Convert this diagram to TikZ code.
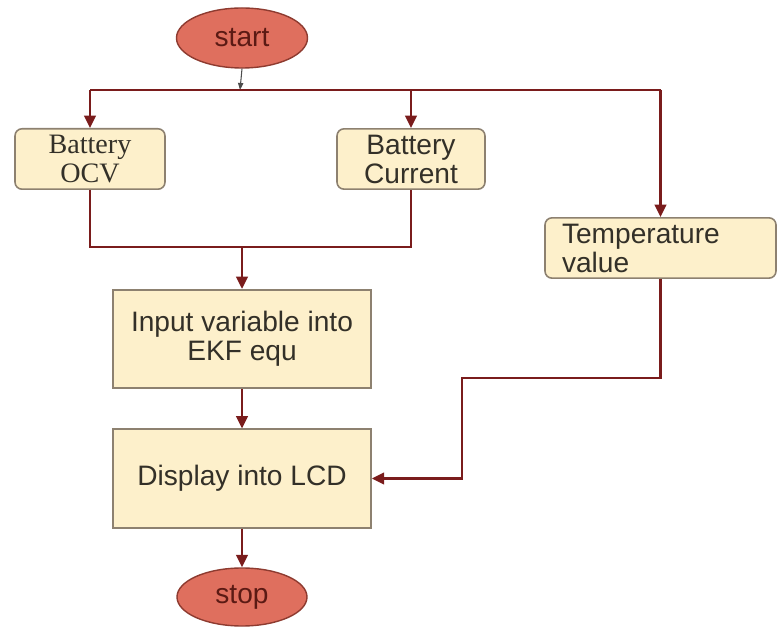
\documentclass[tikz,border=0pt]{standalone}
\usepackage{fontspec}
\setmainfont{Liberation Serif}
\setsansfont{Liberation Sans}
\usetikzlibrary{arrows.meta,positioning,shapes.geometric}
\definecolor{flowred}{HTML}{7A1C1C}
\definecolor{termfill}{HTML}{DF6F5E}
\definecolor{termline}{HTML}{8E3B30}
\definecolor{termtext}{HTML}{5B1A14}
\definecolor{boxfill}{HTML}{FDF0CB}
\definecolor{boxline}{HTML}{8D8170}
\definecolor{boxtext}{HTML}{333028}

\begin{document}
\begin{tikzpicture}[font=\sffamily\fontsize{16}{16.5}\selectfont,>={Triangle[length=7pt,width=6.5pt]},term/.style={ellipse,draw=termline,fill=termfill,line width=.8pt,minimum width=2.62cm,minimum height=1.2cm,inner sep=0pt,text=termtext},card/.style={draw=boxline,fill=boxfill,rounded corners=4pt,line width=.9pt,minimum height=1.16cm,align=center,text=boxtext},proc/.style={draw=boxline,fill=boxfill,line width=.9pt,minimum width=5.16cm,minimum height=1.97cm,align=center,text=boxtext},flow/.style={draw=flowred,line width=1.5pt}]
\useasboundingbox (0,0) rectangle (15.54,12.56);
\node[term] (start) at (4.84,11.8) {start};
\node[card,minimum width=3.0cm,font=\rmfamily\fontsize{16}{17}\selectfont] (ocv) at (1.8,9.38) {Battery\\OCV};
\node[card,minimum width=2.96cm] (cur) at (8.22,9.38) {Battery\\Current};
\node[card,minimum width=4.62cm,minimum height=1.2cm,text width=3.94cm,inner xsep=.34cm,align=left] (temp) at (13.21,7.6) {Temperature\\value};
\node[proc] (input) at (4.84,5.78) {Input variable into\\EKF equ};
\node[proc] (disp) at (4.84,2.99) {Display into LCD};
\node[term,minimum width=2.6cm,minimum height=1.16cm] (stop) at (4.84,0.62) {stop};
\coordinate (split) at (4.8,10.76);
\coordinate (join) at (4.84,7.62);
\coordinate (bend) at (9.24,5.0);
% fan out from start
\draw[gray!60!black,line width=.6pt,-{Triangle[length=4pt,width=3pt]}] (start.south) -- (split);
\draw[flow] (ocv.north |- split) -- (temp.north |- split);
\draw[flow,->] (ocv.north |- split) -- (ocv.north);
\draw[flow,->] (cur.north |- split) -- (cur.north);
\draw[flow,->] (temp.north |- split) -- (temp.north);
% merge into the EKF step
\draw[flow] (ocv.south) -- (ocv.south |- join) -- (cur.south |- join) -- (cur.south);
\draw[flow,->] (join) -- (input);
\draw[flow,->] (input) -- (disp);
\draw[flow,->] (temp.south) |- (bend) |- (disp.east);
\draw[flow,->] (disp) -- (stop);
\end{tikzpicture}
\end{document}
